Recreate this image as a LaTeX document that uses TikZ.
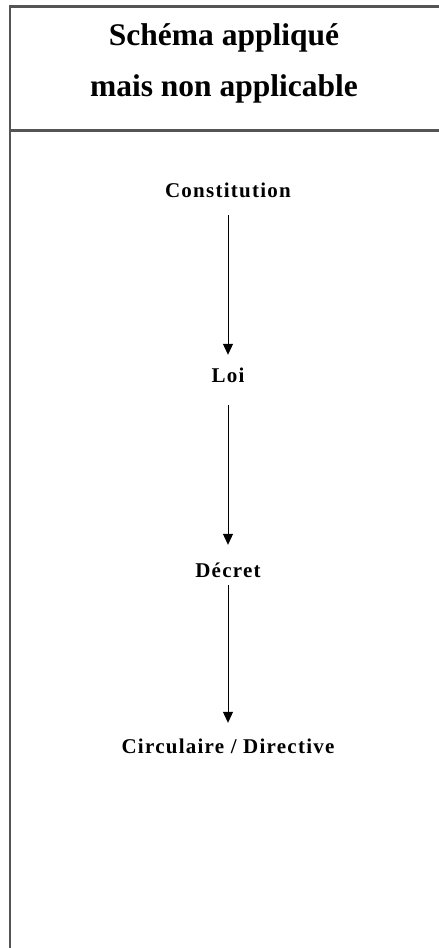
\documentclass[tikz,border=0pt]{standalone}
\usepackage{fontspec}
\setmainfont{Liberation Serif}
\newfontfamily\labfont[LetterSpace=6]{Liberation Serif}
\usetikzlibrary{arrows.meta}
\definecolor{framec}{RGB}{85,85,85}
\begin{document}
\begin{tikzpicture}[x=1pt,y=-1pt,
  frame/.style={draw=framec,line width=2.2pt},
  titletext/.style={anchor=base,inner sep=0pt,font=\bfseries\fontsize{31.5}{36}\selectfont},
  level/.style={anchor=base,inner sep=0pt,text height=14pt,text depth=0pt,font=\labfont\bfseries\fontsize{21}{24}\selectfont},
  arr/.style={draw=black,line width=1pt,-{Triangle[length=11pt,width=10pt]}}]
\useasboundingbox (0,0) rectangle (439,948);
\fill[white] (0,0) rectangle (439,948);
% frame
\draw[frame] (10,948) -- (10,6.5) -- (440,6.5);
\draw[frame] (10,130.5) -- (440,130.5);
% title
\node[titletext] (t1) at (224,45.5) {Schéma appliqué};
\node[titletext] (t2) at (224,96.5) {mais non applicable};
% levels
\node[level] (c) at (228,197) {Constitution};
\node[level] (l) at (228,382) {Loi};
\node[level] (d) at (228,577) {Décret};
\node[level] (ci) at (228,753) {Circulaire / Directive};
% arrows
\draw[arr,shorten <=18pt,shorten >=13pt] (c) -- (l);
\draw[arr,shorten <=23pt,shorten >=18pt] (l) -- (d);
\draw[arr,shorten <=8pt,shorten >=16pt] (d) -- (ci);
\end{tikzpicture}
\end{document}
